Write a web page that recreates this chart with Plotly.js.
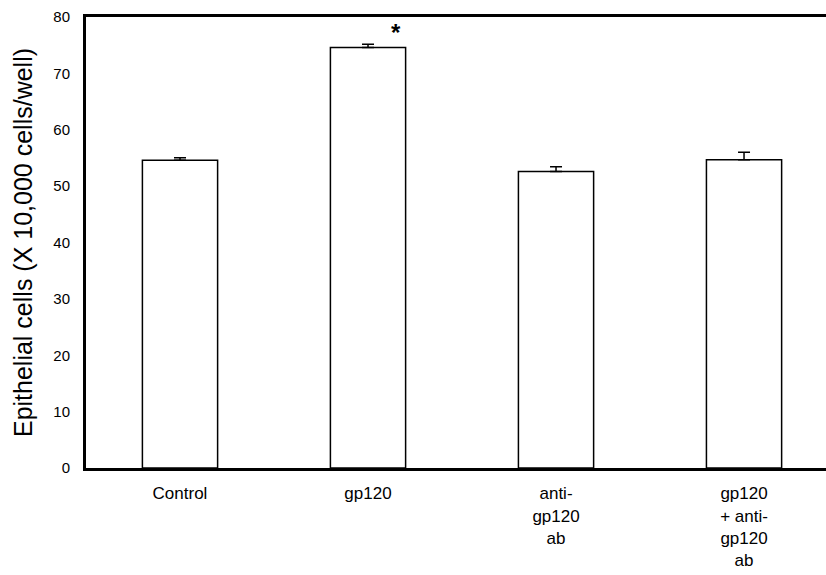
<!DOCTYPE html>
<html>
<head>
<meta charset="utf-8">
<script src="https://cdn.plot.ly/plotly-3.0.1.min.js"></script>
<style>html,body{margin:0;padding:0;background:#fff;}#chart{width:826px;height:575px;}</style>
</head>
<body>
<div id="chart"></div>
<script>
var categories = ["Control", "gp120", "anti-gp120 ab", "gp120 + anti-gp120 ab"];
var tickLabels = ["Control", "gp120", "anti-<br>gp120<br>ab", "gp120<br>+ anti-<br>gp120<br>ab"];
var values = [54.6, 74.6, 52.6, 54.7];
var errors = [0.45, 0.55, 0.85, 1.3];
var sigMarks = ["", "*", "", ""];
var yTicks = [0, 10, 20, 30, 40, 50, 60, 70, 80];

var trace = {
  type: "bar",
  x: categories,
  y: values,
  width: 0.4,
  marker: {color: "#ffffff", line: {color: "#000000", width: 1.5}},
  error_y: {type: "data", symmetric: false, array: errors, arrayminus: errors.map(function(){return 0;}), color: "#000000", thickness: 1.5, width: 6},
  hoverinfo: "none"
};

var annotations = [];
sigMarks.forEach(function(m, i){
  if (m) {
    annotations.push({x: categories[i], y: values[i] + errors[i], xref: "x", yref: "y", text: "<b>" + m + "</b>",
      showarrow: false, xshift: 28, yshift: -4, yanchor: "bottom",
      font: {family: "Liberation Sans, Arial, sans-serif", size: 24, color: "#000"}});
  }
});

var layout = {
  width: 826, height: 575,
  margin: {l: 86, r: 0, t: 17, b: 107},
  paper_bgcolor: "#fff", plot_bgcolor: "#fff",
  showlegend: false,
  font: {family: "Liberation Sans, Arial, sans-serif", color: "#000"},
  xaxis: {
    type: "category",
    range: [-0.5, 3.436],
    tickmode: "array", tickvals: categories, ticktext: tickLabels,
    tickfont: {size: 17},
    ticklabelstandoff: 8,
    showline: true, linecolor: "#000", linewidth: 3, mirror: true,
    showgrid: false, zeroline: false, ticks: "", fixedrange: true
  },
  yaxis: {
    range: [0, 80],
    tickmode: "array", tickvals: yTicks,
    tickfont: {size: 15},
    ticklabelstandoff: 10,
    showline: true, linecolor: "#000", linewidth: 3,
    showgrid: false, zeroline: false, ticks: "", ticklen: 0,
    title: {text: "Epithelial cells (X 10,000 cells/well)", font: {size: 25}, standoff: 14},
    fixedrange: true
  },
  annotations: annotations
};

Plotly.newPlot("chart", [trace], layout, {displayModeBar: false, staticPlot: true});
</script>
</body>
</html>
